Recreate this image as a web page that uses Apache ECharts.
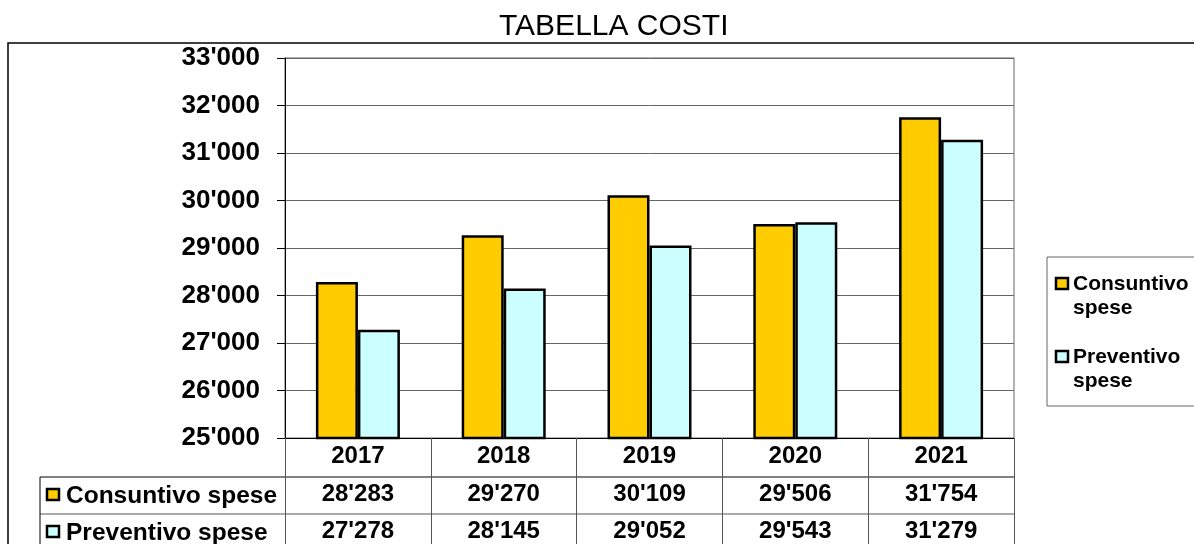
<!DOCTYPE html>
<html>
<head>
<meta charset="utf-8">
<script src="https://cdn.jsdelivr.net/npm/echarts@6/dist/echarts.min.js"></script>
<style>
  html, body { margin: 0; padding: 0; background: #fff; }
  #chart { width: 1194px; height: 544px; }
</style>
</head>
<body>
<div id="chart"></div>
<script>
const years = ['2017', '2018', '2019', '2020', '2021']
const seriesNames = ['Consuntivo spese', 'Preventivo spese']
const consuntivo = [28283, 29270, 30109, 29506, 31754]
const preventivo = [27278, 28145, 29052, 29543, 31279]
const colors = ['#FFCC00', '#CCFFFF']
const yMin = 25000
const yMax = 33000
const yStep = 1000

const FONT = "'Liberation Sans', Arial, sans-serif"
const fmt = v => String(v).replace(/\B(?=(\d{3})+(?!\d))/g, "'")
const tableRows = [consuntivo, preventivo]

const chart = echarts.init(document.getElementById('chart'))

// table row headers (left column) and the legend box on the right
const rowHeaders = seriesNames.flatMap((name, i) => [
  {
    type: 'rect',
    shape: { x: 47, y: 489 + 37 * i, width: 12, height: 11 },
    style: { fill: colors[i], stroke: '#000', lineWidth: 2.5 }
  },
  {
    type: 'text',
    x: 66, y: 496 + 37 * i,
    style: { text: name, font: `bold 24.5px ${FONT}`, fill: '#000', verticalAlign: 'middle' }
  }
])

const legendItems = seriesNames.flatMap((name, i) => [
  {
    type: 'rect',
    shape: { x: 1056, y: 278 + 73 * i, width: 12, height: 11 },
    style: { fill: colors[i], stroke: '#000', lineWidth: 2.5 }
  },
  {
    type: 'text',
    x: 1073, y: 272 + 73 * i,
    style: { text: name.replace(' ', '\n'), font: `bold 21px ${FONT}`, lineHeight: 24, fill: '#000' }
  }
])

const option = {
  animation: false,
  grid: {
    left: 285, right: 180, top: 58, bottom: 106,
    show: true, borderColor: '#666', borderWidth: 1
  },
  xAxis: {
    type: 'category',
    data: years,
    axisLine: { lineStyle: { color: '#000', width: 1 } },
    axisTick: { show: true, length: 110, lineStyle: { color: '#555' } },
    axisLabel: {
      margin: 0,
      interval: 0,
      formatter: (val, i) => `{y|${val}}\n` + tableRows.map(r => `{v|${fmt(r[i])}}`).join('\n'),
      rich: {
        y: { fontFamily: FONT, fontWeight: 'bold', fontSize: 24, color: '#000', lineHeight: 37.5 },
        v: { fontFamily: FONT, fontWeight: 'bold', fontSize: 24, color: '#000', lineHeight: 37.5 }
      }
    }
  },
  yAxis: {
    type: 'value',
    min: yMin,
    max: yMax,
    interval: yStep,
    axisLine: { show: true, lineStyle: { color: '#000', width: 1 } },
    axisTick: { show: true, length: 8, lineStyle: { color: '#000' } },
    axisLabel: {
      margin: 25,
      formatter: v => fmt(v),
      fontFamily: FONT,
      fontWeight: 'bold',
      fontSize: 26,
      color: '#000'
    },
    splitLine: { lineStyle: { color: '#666', width: 1 } }
  },
  series: [
    {
      name: seriesNames[0],
      type: 'bar',
      data: consuntivo,
      barWidth: 42,
      barGap: '0%',
      itemStyle: { color: colors[0], borderColor: '#000', borderWidth: 2.5 }
    },
    {
      name: seriesNames[1],
      type: 'bar',
      data: preventivo,
      barWidth: 42,
      barGap: '0%',
      itemStyle: { color: colors[1], borderColor: '#000', borderWidth: 2.5 }
    }
  ],
  graphic: [
    {
      type: 'text',
      x: 499, y: 12,
      style: { text: 'TABELLA COSTI', font: `30px ${FONT}`, fill: '#000' }
    },
    {
      type: 'rect',
      z: -10,
      shape: { x: 8, y: 43, width: 1300, height: 600 },
      style: { fill: 'none', stroke: '#000', lineWidth: 1.5 }
    },
    { type: 'line', shape: { x1: 40, y1: 477, x2: 1014, y2: 477 }, style: { stroke: '#000', lineWidth: 1 } },
    { type: 'line', shape: { x1: 40, y1: 514, x2: 1014, y2: 514 }, style: { stroke: '#555', lineWidth: 1 } },
    { type: 'line', shape: { x1: 40, y1: 477, x2: 40, y2: 560 }, style: { stroke: '#000', lineWidth: 1 } },
    {
      type: 'rect',
      shape: { x: 1047, y: 257, width: 200, height: 149 },
      style: { fill: '#fff', stroke: '#666', lineWidth: 1 }
    },
    ...rowHeaders,
    ...legendItems
  ]
}

chart.setOption(option)
window.addEventListener('resize', () => chart.resize())
</script>
</body>
</html>
